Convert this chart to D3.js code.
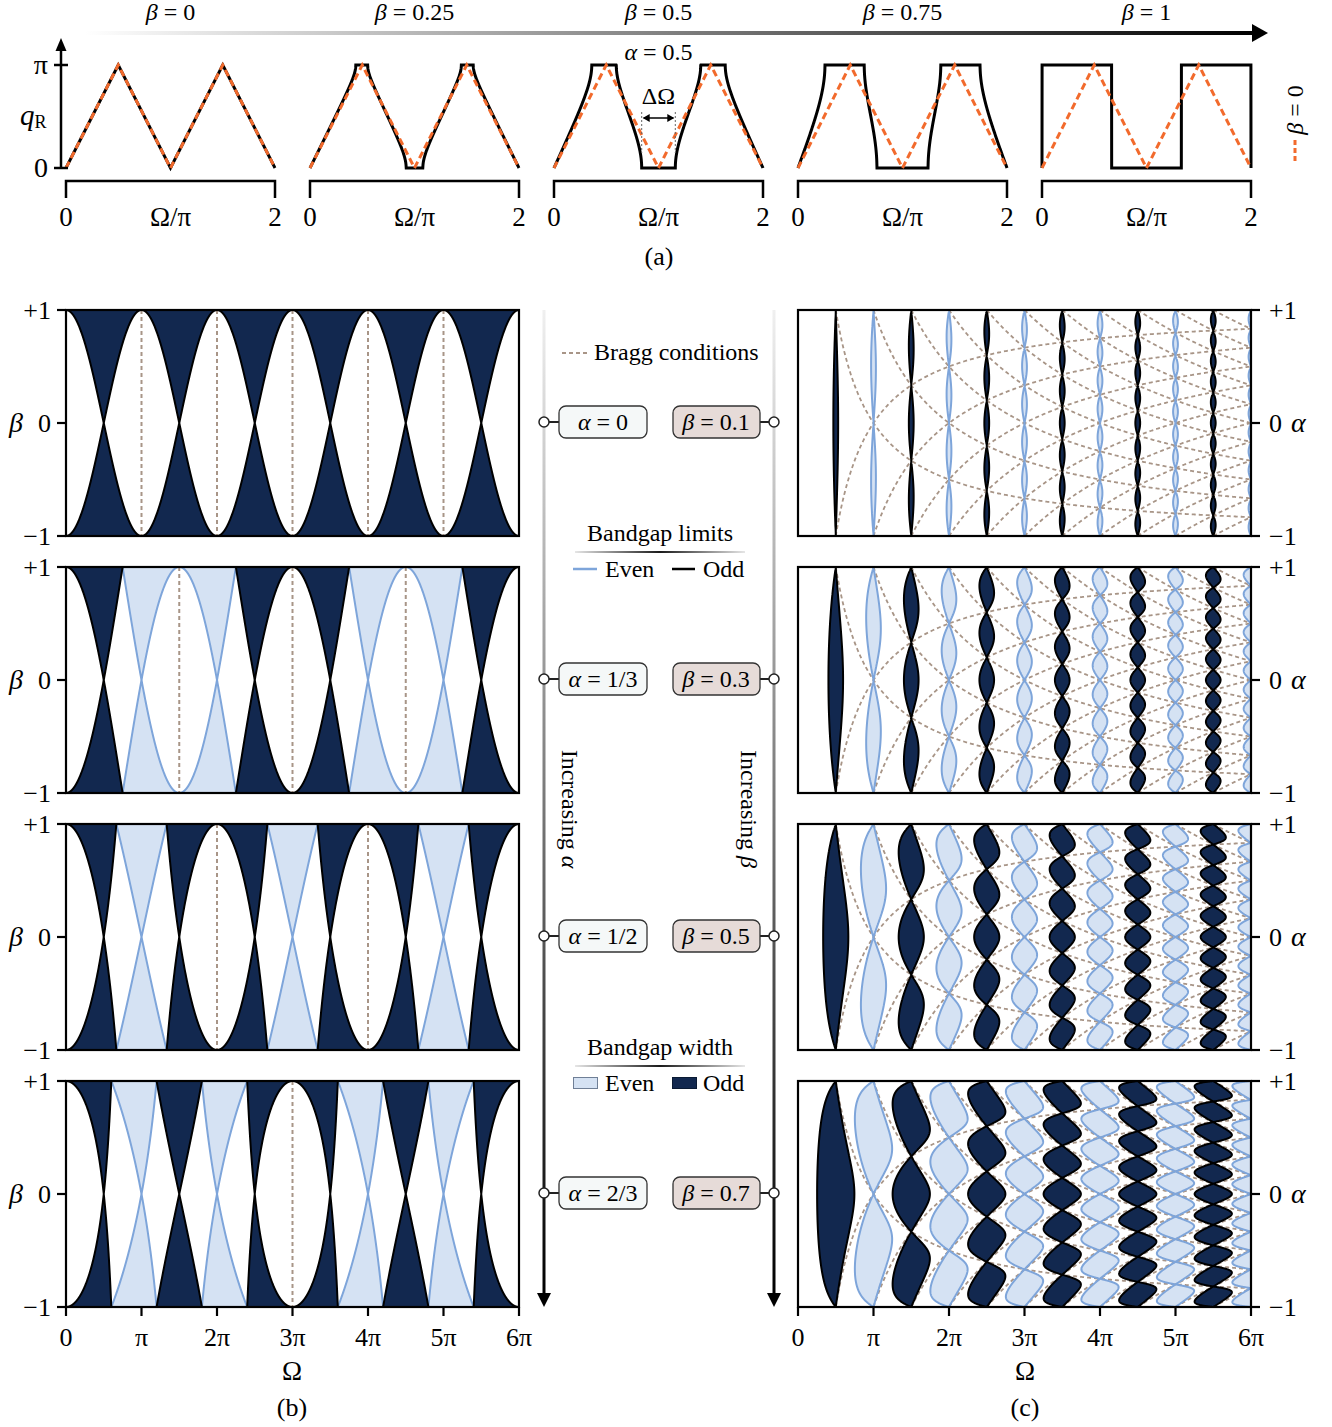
<!DOCTYPE html>
<html><head><meta charset="utf-8">
<script src="https://cdn.jsdelivr.net/npm/d3@7"></script>
<style>
body{margin:0;background:#fff}
svg{display:block}
text{font-family:"Liberation Serif","Times New Roman",serif;fill:#000;white-space:pre}
</style>
</head><body>
<svg id="fig" width="1332" height="1427"></svg>
<script>
// ---------------- data / parameters ----------------
const betaA = [0, 0.25, 0.5, 0.75, 1];
const betaALabels = ["0", "0.25", "0.5", "0.75", "1"];
const alphaA = 0.5;
const alphaB = [0, 1/3, 1/2, 2/3];
const alphaBLabels = ["0", "1/3", "1/2", "2/3"];
const betaC = [0.1, 0.3, 0.5, 0.7];
const betaCLabels = ["0.1", "0.3", "0.5", "0.7"];
const omegaTicks = [0, 1, 2, 3, 4, 5, 6];            // in units of pi
const omegaTickLabels = ["0", "π", "2π", "3π", "4π", "5π", "6π"];
const aXTicks = [0, 2];                              // Omega/pi in panel (a)
const aXTickLabels = ["0", "2"];
const qTicks = [0, 1];                               // q_R / pi
const qTickLabels = ["0", "π"];
const unitTicks = [1, 0, -1];
const unitTickLabels = ["+1", "0", "−1"];

const PI = Math.PI;
const NAVY = "#12284f", LFILL = "#d5e2f3", LSTROKE = "#7ea5da", BRAGG = "#a89587", ORANGE = "#f26a2c";

// dispersion relation of the bilayer: cos q = (cos 2Ω − β² cos 2αΩ)/(1 − β²)
function qR(om, a, b) {
  const b2 = b * b;
  const num = Math.cos(2 * om) - b2 * Math.cos(2 * a * om);
  if (1 - b2 < 1e-9) { if (Math.abs(num) < 1e-9) return 0; return num < 0 ? PI : 0; }
  let c = num / (1 - b2);
  c = Math.max(-1, Math.min(1, c));
  return Math.acos(c);
}
function gOdd(om, a) { const d = Math.abs(Math.cos(a * om)); return d < 1e-12 ? Infinity : Math.abs(Math.cos(om)) / d; }
function gEven(om, a) { const d = Math.abs(Math.sin(a * om)); return d < 1e-12 ? Infinity : Math.abs(Math.sin(om)) / d; }

const svg = d3.select("#fig");
const defs = svg.append("defs");

function grad(id, x1, y1, x2, y2, stops, user) {
  const g = defs.append("linearGradient").attr("id", id)
    .attr("x1", x1).attr("y1", y1).attr("x2", x2).attr("y2", y2);
  if (user) g.attr("gradientUnits", "userSpaceOnUse");
  stops.forEach(s => g.append("stop").attr("offset", s[0]).attr("stop-color", s[1]));
}
grad("gTop", 85, 0, 1255, 0, [[0, "#ffffff"], [1, "#000000"]], true);
grad("gVert", 0, 0, 0, 1, [[0, "#f0f0f0"], [1, "#000000"]], false);
grad("gSep", 0, 0, 1, 0, [[0, "#e6e6e6"], [0.5, "#1a1a1a"], [1, "#e6e6e6"]], false);

function label(g, x, y, parts, opt = {}) {
  const t = g.append("text").attr("x", x).attr("y", y)
    .attr("text-anchor", opt.anchor || "middle")
    .style("font-size", (opt.size || 26) + "px");
  if (opt.transform) t.attr("transform", opt.transform);
  if (opt.baseline) t.attr("dominant-baseline", opt.baseline);
  parts.forEach(p => {
    const s = t.append("tspan").text(p.t);
    if (p.i) s.style("font-style", "italic");
    if (p.size) s.style("font-size", p.size + "px");
    if (p.dy) s.attr("dy", p.dy);
  });
  return t;
}

// ---------------- panel (a) ----------------
const gA = svg.append("g");
const aOrigins = [66, 310, 554, 798, 1042], aWidth = 209;
const yA = d3.scaleLinear().domain([0, PI]).range([168, 65]);
const omA = d3.range(0, 2401).map(i => 2 * PI * i / 2400);

// top gradient arrow
gA.append("rect").attr("x", 85).attr("y", 31).attr("width", 1170).attr("height", 4).attr("fill", "url(#gTop)");
gA.append("path").attr("d", "M1252,24 L1268,33 L1252,42 Z").attr("fill", "#000");

betaA.forEach((b, k) => {
  const xA = d3.scaleLinear().domain([0, 2 * PI]).range([aOrigins[k], aOrigins[k] + aWidth]);
  const line = d3.line().x(d => xA(d[0])).y(d => yA(d[1]));
  const curve = omA.map(o => [o, qR(o, alphaA, b)]);
  const ref = omA.map(o => [o, qR(o, alphaA, 0)]);
  gA.append("path").attr("d", line(curve)).attr("fill", "none").attr("stroke", "#000")
    .attr("stroke-width", 3).attr("stroke-linejoin", "miter");
  gA.append("path").attr("d", line(ref)).attr("fill", "none").attr("stroke", ORANGE)
    .attr("stroke-width", 3).attr("stroke-dasharray", "7,4");
  // bracket axis
  const x0 = xA(0), x1 = xA(2 * PI);
  gA.append("path").attr("d", `M${x0},198 V181 H${x1} V198`).attr("fill", "none")
    .attr("stroke", "#000").attr("stroke-width", 2.5);
  aXTicks.forEach((t, i) => label(gA, xA(t * PI), 226, [{ t: aXTickLabels[i] }], { size: 27 }));
  label(gA, (x0 + x1) / 2, 226, [{ t: "Ω/π" }], { size: 27 });
  label(gA, (x0 + x1) / 2, 20, [{ t: "β", i: 1 }, { t: " = " + betaALabels[k] }], { size: 24 });

  if (k === 2) {
    // ΔΩ annotation: width of even gap around Ω = π
    const zero = curve.filter(d => d[0] > 0.5 * PI && d[0] < 1.5 * PI && d[1] === 0);
    const e0 = xA(zero[0][0]), e1 = xA(zero[zero.length - 1][0]);
    [e0, e1].forEach(x => gA.append("line").attr("x1", x).attr("x2", x).attr("y1", 112).attr("y2", 153)
      .attr("stroke", "#666").attr("stroke-width", 1).attr("stroke-dasharray", "2,2"));
    gA.append("line").attr("x1", e0 + 2).attr("x2", e1 - 2).attr("y1", 118).attr("y2", 118)
      .attr("stroke", "#000").attr("stroke-width", 1.5);
    gA.append("path").attr("d", `M${e0 + 1},118 l7,-4 v8 Z M${e1 - 1},118 l-7,-4 v8 Z`).attr("fill", "#000");
    label(gA, (e0 + e1) / 2, 104, [{ t: "ΔΩ" }], { size: 24 });
    label(gA, (x0 + x1) / 2, 60, [{ t: "α", i: 1 }, { t: " = " + alphaA }], { size: 24 });
  }
});
// y axis of panel (a)
gA.append("line").attr("x1", 61).attr("x2", 61).attr("y1", 168).attr("y2", 48).attr("stroke", "#000").attr("stroke-width", 2.5);
gA.append("path").attr("d", "M61,38 L55.5,51 L66.5,51 Z").attr("fill", "#000");
qTicks.forEach((t, i) => {
  gA.append("line").attr("x1", 54).attr("x2", 68).attr("y1", yA(t * PI)).attr("y2", yA(t * PI)).attr("stroke", "#000").attr("stroke-width", 2.5);
  label(gA, 48, yA(t * PI) + 9, [{ t: qTickLabels[i] }], { anchor: "end", size: 28 });
});
label(gA, 20, 125, [{ t: "q", i: 1, size: 29 }, { t: "R", size: 18, dy: 3 }], { anchor: "start" });
// legend β = 0
label(gA, 1295, 110, [{ t: "β", i: 1 }, { t: " = 0" }], { size: 24, transform: "rotate(-90 1295 110)", baseline: "central" });
gA.append("line").attr("x1", 1295).attr("x2", 1295).attr("y1", 140).attr("y2", 163)
  .attr("stroke", ORANGE).attr("stroke-width", 3).attr("stroke-dasharray", "5,3");
label(gA, 659, 265, [{ t: "(a)" }]);

// ---------------- panels (b) and (c) ----------------
const rowTops = [310, 567, 824, 1081], rowH = 226;
const OMAX = omegaTicks[omegaTicks.length - 1] * PI;
const xB = d3.scaleLinear().domain([0, OMAX]).range([66, 519]);
const xC = d3.scaleLinear().domain([0, OMAX]).range([798, 1251]);
const omB = d3.range(0, 4801).map(i => OMAX * i / 4800);

function frame(g, xs, ys) {
  g.append("rect").attr("x", xs(0)).attr("y", ys(1)).attr("width", xs(OMAX) - xs(0)).attr("height", ys(-1) - ys(1))
    .attr("fill", "none").attr("stroke", "#000").attr("stroke-width", 2.2);
}
function clipFor(id, xs, ys) {
  defs.append("clipPath").attr("id", id).append("rect")
    .attr("x", xs(0)).attr("y", ys(1)).attr("width", xs(OMAX) - xs(0)).attr("height", ys(-1) - ys(1));
  return `url(#${id})`;
}

// panel (b): β vs Ω for fixed α
alphaB.forEach((a, r) => {
  const y = d3.scaleLinear().domain([-1, 1]).range([rowTops[r] + rowH, rowTops[r]]);
  const g = svg.append("g");
  const inner = g.append("g").attr("clip-path", clipFor("cb" + r, xB, y));
  const ev = omB.map(o => [o, Math.min(gEven(o, a), 1)]);
  const od = omB.map(o => [o, Math.min(gOdd(o, a), 1)]);
  const areaUp = d3.area().x(d => xB(d[0])).y0(y(1)).y1(d => y(d[1]));
  const areaDn = d3.area().x(d => xB(d[0])).y0(y(-1)).y1(d => y(-d[1]));
  const lineUp = d3.line().x(d => xB(d[0])).y(d => y(d[1]));
  const lineDn = d3.line().x(d => xB(d[0])).y(d => y(-d[1]));
  // even gaps
  if (a !== 0) {
    inner.append("path").attr("d", areaUp(ev)).attr("fill", LFILL);
    inner.append("path").attr("d", areaDn(ev)).attr("fill", LFILL);
  }
  // Bragg conditions: Ω(1+α)/π and Ω(1−α)/π both integers
  const bragg = [];
  for (let m = 1; m <= 6 * (1 + a) + 0.5; m++) {
    const om = m * PI / (1 + a);
    const n = om * (1 - a) / PI;
    if (om < OMAX - 1e-6 && Math.abs(n - Math.round(n)) < 1e-6) bragg.push(om);
  }
  bragg.forEach(om => inner.append("line").attr("x1", xB(om)).attr("x2", xB(om)).attr("y1", y(1)).attr("y2", y(-1))
    .attr("stroke", BRAGG).attr("stroke-width", 2).attr("stroke-dasharray", "4,3"));
  if (a !== 0) {
    inner.append("path").attr("d", lineUp(ev)).attr("fill", "none").attr("stroke", LSTROKE).attr("stroke-width", 2);
    inner.append("path").attr("d", lineDn(ev)).attr("fill", "none").attr("stroke", LSTROKE).attr("stroke-width", 2);
  }
  // odd gaps
  inner.append("path").attr("d", areaUp(od)).attr("fill", NAVY);
  inner.append("path").attr("d", areaDn(od)).attr("fill", NAVY);
  inner.append("path").attr("d", lineUp(od)).attr("fill", "none").attr("stroke", "#000").attr("stroke-width", 2);
  inner.append("path").attr("d", lineDn(od)).attr("fill", "none").attr("stroke", "#000").attr("stroke-width", 2);
  frame(g, xB, y);
  unitTicks.forEach((t, i) => {
    g.append("line").attr("x1", 57).attr("x2", 66).attr("y1", y(t)).attr("y2", y(t)).attr("stroke", "#000").attr("stroke-width", 2.2);
    label(g, 51, y(t) + 9, [{ t: unitTickLabels[i] }], { anchor: "end" });
  });
  label(g, 16, y(0) + 9, [{ t: "β", i: 1 }], { size: 28 });
});

// panel (c): α vs Ω for fixed β
const NX = 1201, NY = 601;
function gapContour(beta, kind) {
  const b2 = beta * beta;
  const vals = new Float64Array(NX * NY);
  const co = new Float64Array(NX), so = new Float64Array(NX);
  for (let i = 0; i < NX; i++) { const o = OMAX * i / (NX - 1); co[i] = Math.cos(o) ** 2; so[i] = Math.sin(o) ** 2; }
  for (let j = 0; j < NY; j++) {
    const a = -1 + 2 * j / (NY - 1);
    for (let i = 0; i < NX; i++) {
      const ao = a * OMAX * i / (NX - 1);
      let v;
      if (kind === "odd") { const c = Math.cos(ao); v = b2 * c * c - co[i]; }
      else { const s = Math.sin(ao); v = b2 * s * s - so[i]; }
      vals[j * NX + i] = v;
    }
  }
  return d3.contours().size([NX, NY]).thresholds([0])(vals)[0];
}
betaC.forEach((b, r) => {
  const y = d3.scaleLinear().domain([-1, 1]).range([rowTops[r] + rowH, rowTops[r]]);
  const g = svg.append("g");
  const inner = g.append("g").attr("clip-path", clipFor("cc" + r, xC, y));
  const proj = d3.geoTransform({
    point: function (u, v) {
      this.stream.point(xC((u - 0.5) * OMAX / (NX - 1)), y(-1 + (v - 0.5) * 2 / (NY - 1)));
    }
  });
  const path = d3.geoPath(proj);
  const ev = gapContour(b, "even"), od = gapContour(b, "odd");
  inner.append("path").attr("d", path(ev)).attr("fill", LFILL);
  // Bragg curves: Ω(1+α) = mπ and Ω(1−α) = nπ
  const bl = d3.line().x(d => xC(d[0])).y(d => y(d[1]));
  for (let m = 1; m <= 12; m++) {
    const start = m * PI / 2;
    if (start >= OMAX) continue;
    const pts = d3.range(0, 401).map(i => start + (OMAX - start) * i / 400);
    inner.append("path").attr("d", bl(pts.map(o => [o, m * PI / o - 1]))).attr("fill", "none")
      .attr("stroke", BRAGG).attr("stroke-width", 1.8).attr("stroke-dasharray", "4,3");
    inner.append("path").attr("d", bl(pts.map(o => [o, 1 - m * PI / o]))).attr("fill", "none")
      .attr("stroke", BRAGG).attr("stroke-width", 1.8).attr("stroke-dasharray", "4,3");
  }
  inner.append("path").attr("d", path(ev)).attr("fill", "none").attr("stroke", LSTROKE).attr("stroke-width", 2);
  inner.append("path").attr("d", path(od)).attr("fill", NAVY).attr("stroke", "#000").attr("stroke-width", 2);
  frame(g, xC, y);
  unitTicks.forEach((t, i) => {
    g.append("line").attr("x1", 1251).attr("x2", 1260).attr("y1", y(t)).attr("y2", y(t)).attr("stroke", "#000").attr("stroke-width", 2.2);
    label(g, 1269, y(t) + 9, [{ t: unitTickLabels[i] }], { anchor: "start" });
  });
  label(g, 1291, y(0) + 9, [{ t: "α", i: 1 }], { anchor: "start", size: 28 });
});

// bottom axes
[[xB, 292, "(b)"], [xC, 1025, "(c)"]].forEach(([xs, cx, name]) => {
  const g = svg.append("g");
  const yb = rowTops[3] + rowH;
  omegaTicks.forEach((t, i) => {
    g.append("line").attr("x1", xs(t * PI)).attr("x2", xs(t * PI)).attr("y1", yb).attr("y2", yb + 9).attr("stroke", "#000").attr("stroke-width", 2.2);
    label(g, xs(t * PI), yb + 39, [{ t: omegaTickLabels[i] }]);
  });
  label(g, cx, 1380, [{ t: "Ω" }], { size: 27 });
  label(g, cx, 1416, [{ t: name }]);
});

// ---------------- middle column ----------------
const gM = svg.append("g");
[544, 774].forEach(x => {
  gM.append("rect").attr("x", x - 1.5).attr("y", 310).attr("width", 3).attr("height", 985).attr("fill", "url(#gVert)");
  gM.append("path").attr("d", `M${x - 7},1293 L${x + 7},1293 L${x},1307 Z`).attr("fill", "#000");
});
rowTops.forEach((top, r) => {
  const yc = top + rowH / 2 - 1;
  // α box
  gM.append("line").attr("x1", 549).attr("x2", 559).attr("y1", yc).attr("y2", yc).attr("stroke", "#222").attr("stroke-width", 2);
  gM.append("circle").attr("cx", 544).attr("cy", yc).attr("r", 5).attr("fill", "#fff").attr("stroke", "#222").attr("stroke-width", 1.5);
  gM.append("rect").attr("x", 559).attr("y", yc - 16).attr("width", 88).attr("height", 32).attr("rx", 7)
    .attr("fill", "#f5f8f8").attr("stroke", "#333").attr("stroke-width", 1.3);
  label(gM, 603, yc + 8, [{ t: "α", i: 1 }, { t: " = " + alphaBLabels[r] }], { size: 24 });
  // β box
  gM.append("line").attr("x1", 760).attr("x2", 769).attr("y1", yc).attr("y2", yc).attr("stroke", "#222").attr("stroke-width", 2);
  gM.append("circle").attr("cx", 774).attr("cy", yc).attr("r", 5).attr("fill", "#fff").attr("stroke", "#222").attr("stroke-width", 1.5);
  gM.append("rect").attr("x", 673).attr("y", yc - 16).attr("width", 87).attr("height", 32).attr("rx", 7)
    .attr("fill", "#e6dbd8").attr("stroke", "#333").attr("stroke-width", 1.3);
  label(gM, 716, yc + 8, [{ t: "β", i: 1 }, { t: " = " + betaCLabels[r] }], { size: 24 });
});
// Bragg legend
gM.append("line").attr("x1", 562).attr("x2", 588).attr("y1", 353).attr("y2", 353).attr("stroke", BRAGG).attr("stroke-width", 2).attr("stroke-dasharray", "4,3");
label(gM, 594, 360, [{ t: "Bragg conditions" }], { anchor: "start", size: 24 });
// Bandgap limits
label(gM, 660, 541, [{ t: "Bandgap limits" }], { size: 24 });
gM.append("rect").attr("x", 575).attr("y", 551).attr("width", 170).attr("height", 2).attr("fill", "url(#gSep)");
gM.append("line").attr("x1", 573).attr("x2", 597).attr("y1", 569).attr("y2", 569).attr("stroke", LSTROKE).attr("stroke-width", 2.5);
label(gM, 605, 577, [{ t: "Even" }], { anchor: "start", size: 24 });
gM.append("line").attr("x1", 672).attr("x2", 695).attr("y1", 569).attr("y2", 569).attr("stroke", "#000").attr("stroke-width", 2.5);
label(gM, 703, 577, [{ t: "Odd" }], { anchor: "start", size: 24 });
// Bandgap width
label(gM, 660, 1055, [{ t: "Bandgap width" }], { size: 24 });
gM.append("rect").attr("x", 575).attr("y", 1065).attr("width", 170).attr("height", 2).attr("fill", "url(#gSep)");
gM.append("rect").attr("x", 573.5).attr("y", 1077.5).attr("width", 24).attr("height", 11).attr("fill", LFILL).attr("stroke", "#6f7f96").attr("stroke-width", 1);
label(gM, 605, 1091, [{ t: "Even" }], { anchor: "start", size: 24 });
gM.append("rect").attr("x", 672.5).attr("y", 1077.5).attr("width", 24).attr("height", 11).attr("fill", NAVY).attr("stroke", "#0a1a33").attr("stroke-width", 1);
label(gM, 703, 1091, [{ t: "Odd" }], { anchor: "start", size: 24 });
// increasing labels
label(gM, 570, 809, [{ t: "Increasing " }, { t: "α", i: 1 }], { size: 24, transform: "rotate(90 570 809)", baseline: "central" });
label(gM, 749, 809, [{ t: "Increasing " }, { t: "β", i: 1 }], { size: 24, transform: "rotate(90 749 809)", baseline: "central" });
</script>
</body></html>
